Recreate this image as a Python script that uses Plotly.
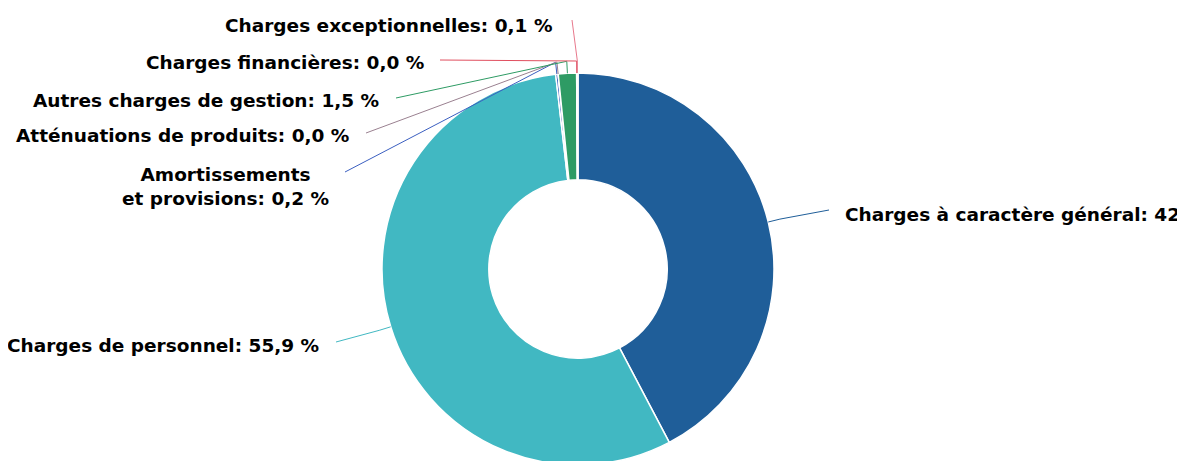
import math
import plotly.graph_objects as go

# Budget breakdown (percent of total charges)
labels = [
    "Charges à caractère général",
    "Charges de personnel",
    "Amortissements<br>et provisions",
    "Atténuations de produits",
    "Autres charges de gestion",
    "Charges financières",
    "Charges exceptionnelles",
]
values = [42.3, 55.9, 0.2, 0.01, 1.5, 0.01, 0.1]
colors = ["#1f5e99", "#41b8c2", "#3b5fc0", "#9a8090", "#2e9b64", "#e04f5f", "#e8788c"]

# Figure / pie geometry in page pixels (page body has an 8px margin)
W, H = 1185, 461
OFF = 8
cx, cy, R = 578, 269, 196
hole = 0.455

# Label placement (page pixels): text anchor x, y, side, and connector end
label_pos = [
    (843, 214, "left", 829, 210),
    (321, 345, "right", 336, 342),
    (331, 186, "right", 345, 172),
    (351, 136, "right", 366, 133),
    (381, 100, "right", 396, 98),
    (426, 62, "right", 440, 60),
    (554, 26, "right", 572, 20),
]


def px_x(x):
    return (x - OFF) / W


def px_y(y):
    return 1 - (y - OFF) / H


fig = go.Figure()

fig.add_trace(go.Pie(
    labels=labels,
    values=values,
    sort=False,
    direction="clockwise",
    rotation=0,
    hole=hole,
    marker=dict(colors=colors, line=dict(color="white", width=1.5)),
    textinfo="none",
    hoverinfo="skip",
    showlegend=False,
    domain=dict(x=[px_x(cx - R), px_x(cx + R)], y=[px_y(cy + R), px_y(cy - R)]),
))

total = sum(values)
cum = 0
shapes = []
annotations = []
for lab, v, col, pos in zip(labels, values, colors, label_pos):
    mid = (cum + v / 2) / total * 2 * math.pi
    cum += v
    ex, ey = cx + R * math.sin(mid), cy - R * math.cos(mid)
    bx, by = cx + (R + 12) * math.sin(mid), cy - (R + 12) * math.cos(mid)
    tx, ty, side, lx, ly = pos
    shapes.append(dict(
        type="path", xref="paper", yref="paper",
        path=f"M {px_x(ex)} {px_y(ey)} L {px_x(bx)} {px_y(by)} L {px_x(lx)} {px_y(ly)}",
        line=dict(color=col, width=1),
    ))
    pct = f"{v / total * 100:.1f}".replace(".", ",")
    annotations.append(dict(
        x=px_x(tx), y=px_y(ty), xref="paper", yref="paper",
        text=f"{lab}: {pct} %", showarrow=False,
        xanchor=side, yanchor="middle", align="center",
        font=dict(family="DejaVu Sans", size=18.5, color="#000000", weight="bold"),
    ))

fig.update_layout(
    width=W,
    height=H,
    margin=dict(l=0, r=0, t=0, b=0),
    paper_bgcolor="white",
    plot_bgcolor="white",
    shapes=shapes,
    annotations=annotations,
)

fig.write_html("out.html")
